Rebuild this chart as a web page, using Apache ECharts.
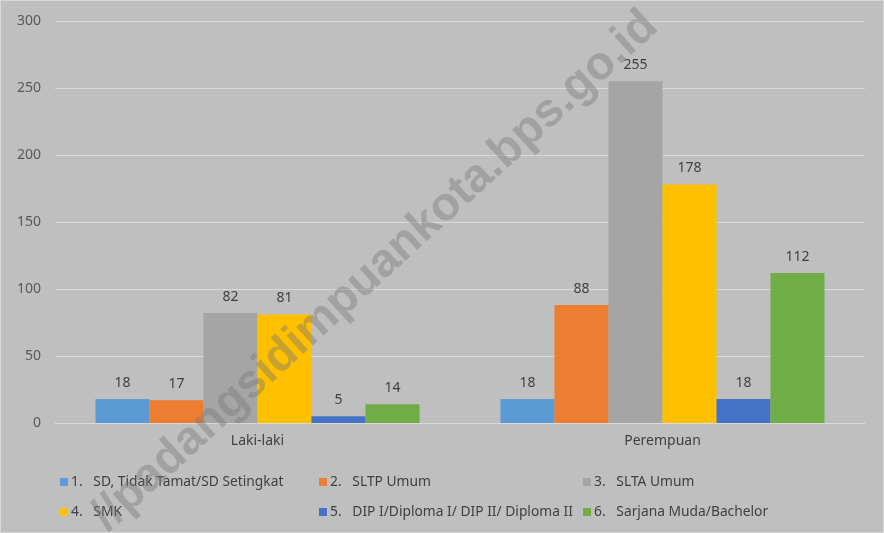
<!DOCTYPE html>
<html>
<head>
<meta charset="utf-8">
<script src="https://cdn.jsdelivr.net/npm/echarts@6/dist/echarts.min.js"></script>
<style>
  html, body { margin: 0; padding: 0; background: #ffffff; }
  #chart { width: 882px; height: 531px; border: 1px solid #d9d9d9; background: #bfbfbf; }
</style>
</head>
<body>
<div id="chart"></div>
<script>
let categories = ['Laki-laki', 'Perempuan'];
let seriesNames = [
  '1.   SD, Tidak Tamat/SD Setingkat',
  '2.   SLTP Umum',
  '3.   SLTA Umum',
  '4.   SMK',
  '5.   DIP I/Diploma I/ DIP II/ Diploma II',
  '6.   Sarjana Muda/Bachelor'
];
let seriesValues = [
  [18, 18],
  [17, 88],
  [82, 255],
  [81, 178],
  [5, 18],
  [14, 112]
];
let colors = ['#5b9bd5', '#ed7d31', '#a5a5a5', '#ffc000', '#4472c4', '#70ad47'];
let yTicks = [0, 50, 100, 150, 200, 250, 300];

let myChart = echarts.init(document.getElementById('chart'));
let font = 'Noto Sans';

// legend placed as a 3 x 2 grid, one legend per item
let legendPos = [
  [54, 469], [313, 469], [577, 469],
  [54, 499], [313, 499], [577, 499]
];
let legends = seriesNames.map(function(name, i){
  return {
    data: [name],
    left: legendPos[i][0],
    top: legendPos[i][1],
    itemWidth: 8,
    itemHeight: 8,
    itemGap: 0,
    icon: 'rect',
    selectedMode: false,
    textStyle: { color: '#404040', fontSize: 13.8, fontFamily: font, padding: [0, 0, 0, -2] }
  };
});

let options = {
  animation: false,
  color: colors,
  grid: { left: 54, right: 18, top: 20, bottom: 109, containLabel: false },
  legend: legends,
  xAxis: {
    type: 'category',
    data: categories,
    axisLine: { lineStyle: { color: '#d9d9d9' } },
    axisTick: { show: false },
    axisLabel: { color: '#404040', fontSize: 14, fontFamily: font, margin: 11 }
  },
  yAxis: {
    type: 'value',
    min: yTicks[0],
    max: yTicks[yTicks.length - 1],
    interval: 50,
    axisLine: { show: false },
    axisTick: { show: false },
    splitLine: { lineStyle: { color: '#d9d9d9', width: 1 } },
    axisLabel: { color: '#595959', fontSize: 14, fontFamily: font, margin: 14 }
  },
  series: seriesNames.map(function(name, i){
    return {
      name: name,
      type: 'bar',
      data: seriesValues[i],
      barGap: '0%',
      barCategoryGap: '20%',
      label: {
        show: true,
        position: 'top',
        distance: 9,
        color: '#404040',
        fontSize: 14,
        fontFamily: font
      }
    };
  }),
  graphic: [{
    type: 'text',
    x: 374,
    y: 270,
    rotation: Math.atan2(520, 570),
    z: 100,
    style: {
      text: '//padangsidimpuankota.bps.go.id',
      font: 'bold 47px "Liberation Sans"',
      fill: 'rgba(120,120,120,0.42)',
      align: 'center',
      verticalAlign: 'middle'
    }
  }]
};

myChart.setOption(options);
</script>
</body>
</html>
